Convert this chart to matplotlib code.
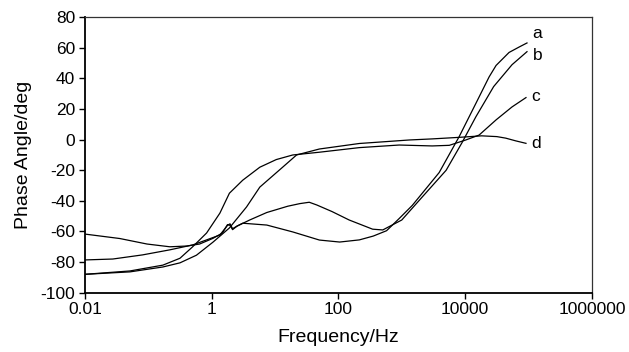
import matplotlib
matplotlib.use("Agg")
import matplotlib.pyplot as plt
import numpy as np

plt.rcParams['font.family'] = ['Liberation Sans', 'DejaVu Sans']
plt.rcParams['axes.unicode_minus'] = False

# log10(frequency / Hz) and phase angle (deg)
a_logf = [-2.0, -1.56, -1.09, -0.66, -0.30, -0.08, 0.13, 0.25, 0.29, 0.33, 0.40, 0.49,
          0.87, 1.28, 1.70, 2.02, 2.33, 2.55, 2.76, 2.96, 3.165, 3.59, 3.906, 4.173,
          4.378, 4.488, 4.693, 4.85, 4.976]
a_phase = [-78.6, -78.0, -75.3, -72.0, -68.8, -65.5, -62.3, -56.0, -55.0, -58.2, -56.5, -54.6,
           -55.8, -60.3, -65.6, -66.9, -65.5, -63.0, -59.5, -51.5, -43.0, -21.5, 2.0, 24.0,
           41.0, 48.5, 57.0, 60.5, 63.2]

b_logf = [-2.0, -1.45, -1.02, -0.66, -0.39, -0.19, 0.02, 0.17, 0.25, 0.29, 0.33, 0.40, 0.60,
          0.87, 1.20, 1.39, 1.54, 1.66, 1.90, 2.17, 2.54, 2.70, 3.00, 3.32, 3.70,
          3.95, 4.17, 4.45, 4.74, 4.976]
b_phase = [-61.7, -64.6, -68.2, -70.0, -69.5, -68.2, -64.5, -61.0, -55.5, -56.0, -58.8, -56.5, -52.5,
           -47.6, -43.5, -41.8, -40.9, -42.7, -47.0, -52.5, -58.5, -59.0, -52.5, -37.6, -20.0,
           -2.0, 15.0, 34.7, 49.0, 57.5]

c_logf = [-2.0, -1.29, -0.77, -0.50, -0.30, -0.08, 0.13, 0.28, 0.49, 0.76, 1.02, 1.28,
          1.70, 2.33, 2.96, 3.48, 3.75, 4.01, 4.22, 4.49, 4.74, 4.96]
c_phase = [-88.0, -85.8, -82.0, -77.5, -70.0, -61.0, -48.0, -35.0, -26.5, -18.0, -13.0, -10.0,
           -8.2, -5.2, -3.5, -4.1, -3.7, -0.2, 3.0, 13.0, 21.4, 27.5]

d_logf = [-2.0, -1.29, -0.77, -0.50, -0.24, 0.02, 0.28, 0.55, 0.76, 1.12, 1.34,
          1.70, 2.33, 3.12, 3.48, 3.90, 4.26, 4.50, 4.64, 4.80, 4.96]
d_phase = [-88.0, -86.4, -83.2, -80.5, -75.5, -67.0, -57.7, -44.0, -31.0, -18.0, -10.0,
           -6.1, -2.5, -0.2, 0.5, 1.5, 2.5, 2.0, 1.0, -0.8, -2.4]

labels = ['a', 'b', 'c', 'd']
x_ticks = [0.01, 1, 100, 10000, 1000000]
x_tick_labels = ['0.01', '1', '100', '10000', '1000000']
y_ticks = [-100, -80, -60, -40, -20, 0, 20, 40, 60, 80]

fig = plt.figure(figsize=(6.29, 3.52), dpi=100)
ax = fig.add_axes([0.135, 0.1685, 0.806, 0.7825])

series = [(a_logf, a_phase), (b_logf, b_phase), (c_logf, c_phase), (d_logf, d_phase)]
# label offsets in points from the line ends
offsets = [(4, 7), (4, -2.5), (4, 1), (4, 0)]
for (lf, ph), lab, off in zip(series, labels, offsets):
    f = 10 ** np.array(lf)
    ax.plot(f, ph, color='black', lw=0.9)
    ax.annotate(lab, xy=(f[-1], ph[-1]), xytext=off, textcoords='offset points',
                ha='left', va='center', fontsize=12.5)

ax.set_xscale('log')
ax.set_xlim(0.01, 1000000)
ax.set_ylim(-100, 80)
ax.set_xticks(x_ticks)
ax.set_xticklabels(x_tick_labels)
ax.minorticks_off()
ax.set_yticks(y_ticks)
ax.tick_params(direction='out', length=4, width=1, labelsize=12.5, pad=3)
for s in ['left', 'bottom']:
    ax.spines[s].set_linewidth(1.3)
for s in ['top', 'right']:
    ax.spines[s].set_linewidth(0.9)
    ax.spines[s].set_color('#333333')

ax.set_xlabel('Frequency/Hz', fontsize=14, labelpad=8)
ax.set_ylabel('Phase Angle/deg', fontsize=14, labelpad=6)

fig.savefig('out.png', dpi=100)
